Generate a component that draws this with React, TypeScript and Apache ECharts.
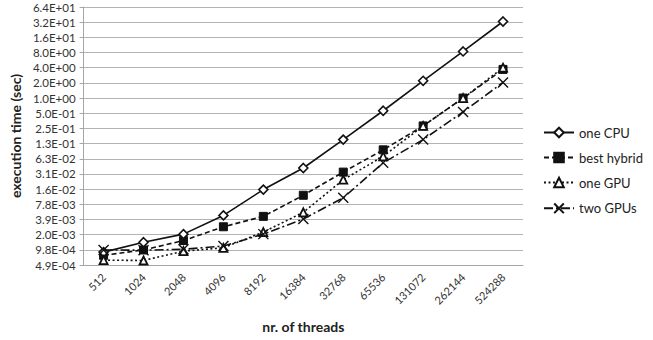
import React, { useEffect, useRef } from "react";
import * as echarts from "echarts";

const categories = ["512", "1024", "2048", "4096", "8192", "16384", "32768", "65536", "131072", "262144", "524288"];
const oneCPU = [0.00088, 0.00138, 0.002, 0.0047, 0.0153, 0.041, 0.15, 0.56, 2.2, 8.4, 33];
const bestHybrid = [0.00076, 0.00097, 0.00149, 0.0028, 0.0045, 0.0118, 0.034, 0.094, 0.28, 1.0, 3.7];
const oneGPU = [0.00061, 0.0006, 0.00092, 0.00107, 0.0022, 0.0054, 0.024, 0.07, 0.28, 1.0, 4.0];
const twoGPUs = [0.00097, 0.00096, 0.001, 0.00116, 0.002, 0.004, 0.0105, 0.052, 0.15, 0.53, 2.04];
// tick labels from 2^-11 up to 2^6
const yTickLabels = [
  "4.9E-04", "9.8E-04", "2.0E-03", "3.9E-03", "7.8E-03", "1.6E-02", "3.1E-02", "6.3E-02", "1.3E-01",
  "2.5E-01", "5.0E-01", "1.0E+00", "2.0E+00", "4.0E+00", "8.0E+00", "1.6E+01", "3.2E+01", "6.4E+01",
];
const seriesNames = ["one CPU", "best hybrid", "one GPU", "two GPUs"];

const FONT = "Lato, 'Open Sans', sans-serif";
const X_PATH = "path://M0,0L10,10M10,0L0,10";

export default function App() {
  const ref = useRef<HTMLDivElement>(null);
  useEffect(() => {
    if (!ref.current) return;
    const chart = echarts.init(ref.current, undefined, { renderer: "svg" });
    const lineBase = { color: "#111", width: 1.6 };
    chart.setOption({
      animation: false,
      textStyle: { fontFamily: FONT },
      grid: { left: 83, right: 130, top: 7, bottom: 75, containLabel: false },
      legend: {
        orient: "vertical",
        left: 538,
        top: 121,
        itemWidth: 30,
        itemHeight: 12,
        itemGap: 12,
        textStyle: { fontFamily: FONT, fontSize: 13, color: "#222" },
        data: seriesNames,
      },
      xAxis: {
        type: "category",
        data: categories,
        boundaryGap: true,
        name: "nr. of threads",
        nameLocation: "middle",
        nameGap: 54,
        nameTextStyle: { fontFamily: FONT, fontSize: 14, fontWeight: "bold", color: "#222" },
        axisLine: { lineStyle: { color: "#a6a6a6", width: 1 } },
        axisTick: { show: false },
        axisLabel: { rotate: 45, margin: 10, fontSize: 11, color: "#333", fontFamily: FONT, interval: 0 },
      },
      yAxis: {
        type: "log",
        logBase: 2,
        min: Math.pow(2, -11),
        max: Math.pow(2, 6),
        interval: 1,
        name: "execution time (sec)",
        nameLocation: "middle",
        nameGap: 54,
        nameTextStyle: { fontFamily: FONT, fontSize: 14, fontWeight: "bold", color: "#222" },
        axisLine: { show: true, lineStyle: { color: "#a6a6a6", width: 1 } },
        axisTick: { show: true, length: 4, lineStyle: { color: "#a6a6a6" } },
        splitLine: { show: true, lineStyle: { color: "#b3b3b3", width: 1 } },
        axisLabel: {
          fontSize: 11.5,
          color: "#333",
          fontFamily: FONT,
          margin: 8,
          formatter: (v: number) => {
            const i = Math.round(Math.log2(v)) + 11;
            return yTickLabels[i] ?? "";
          },
        },
      },
      series: [
        {
          name: seriesNames[0],
          type: "line",
          data: oneCPU,
          symbol: "diamond",
          symbolSize: 9,
          lineStyle: { ...lineBase, type: "solid" },
          itemStyle: { color: "#fff", borderColor: "#111", borderWidth: 1.6 },
          z: 5,
        },
        {
          name: seriesNames[1],
          type: "line",
          data: bestHybrid,
          symbol: "rect",
          symbolSize: 8,
          lineStyle: { ...lineBase, type: [5, 3] },
          itemStyle: { color: "#111", borderColor: "#111", borderWidth: 1 },
          z: 4,
        },
        {
          name: seriesNames[2],
          type: "line",
          data: oneGPU,
          symbol: "triangle",
          symbolSize: 8,
          lineStyle: { ...lineBase, type: [2, 2.5] },
          itemStyle: { color: "#fff", borderColor: "#111", borderWidth: 1.8 },
          z: 6,
        },
        {
          name: seriesNames[3],
          type: "line",
          data: twoGPUs,
          symbol: X_PATH,
          symbolSize: 10,
          lineStyle: { ...lineBase, type: [9, 3, 2, 3] },
          itemStyle: { color: "none", borderColor: "#111", borderWidth: 1.4 },
          z: 7,
        },
      ],
    });
    return () => chart.dispose();
  }, []);
  return (
    <div
      ref={ref}
      style={{ position: "absolute", left: 0, top: 0, width: 653, height: 340 }}
    />
  );
}
